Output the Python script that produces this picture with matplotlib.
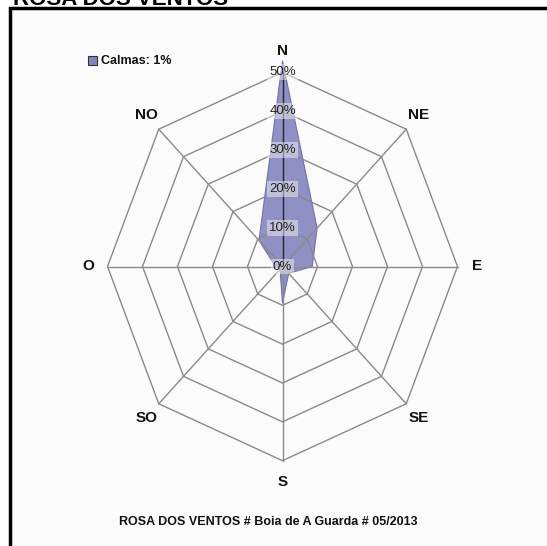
import numpy as np
import matplotlib
matplotlib.use("Agg")
import matplotlib.pyplot as plt
from matplotlib.patches import Rectangle

# wind rose data (% of time from each direction)
directions = ['N', 'NE', 'E', 'SE', 'S', 'SO', 'O', 'NO']
freq = [53, 14, 8.5, 2.5, 9.5, 1, 2, 9.5]
ring_levels = [10, 20, 30, 40, 50]
ring_labels = ['0%', '10%', '20%', '30%', '40%', '50%']
calmas = 1
caption = 'ROSA DOS VENTOS # Boia de A Guarda # 05/2013'
title = 'ROSA DOS VENTOS'

FONT = ['Liberation Sans', 'DejaVu Sans']
W, H = 547, 546

fig = plt.figure(figsize=(W / 100, H / 100), dpi=100)
fig.patch.set_facecolor('white')

# frame of the chart box (cut on right and bottom like the screenshot)
fig.patches.append(Rectangle((10 / W, -0.05), 1.1, (H - 8) / H + 0.05, transform=fig.transFigure,
                             facecolor='#fafbfa', edgecolor='black', lw=2.5, zorder=-5))
fig.text(13 / W, 1 - 5 / H, title, fontsize=16, fontweight='bold',
         family=FONT, va='baseline', ha='left')

cx, cy = 282.5, H - 266.5
rx, ry = 210, 233
ax = fig.add_axes([(cx - rx) / W, (cy - ry) / H, 2 * rx / W, 2 * ry / H])
ax.set_xlim(-60, 60)
ax.set_ylim(-60, 60)
ax.axis('off')
ax.patch.set_alpha(0)

theta = np.deg2rad(90 - 45 * np.arange(len(directions)))
ct, st = np.cos(theta), np.sin(theta)

# data polygon
f = np.array(freq)
ax.fill(np.append(f * ct, f[0] * ct[0]), np.append(f * st, f[0] * st[0]),
        facecolor='#8484bd', edgecolor='#6b6ba6', lw=0.8, alpha=0.9, zorder=2)

# grid rings and spokes
for r in ring_levels:
    ax.plot(np.append(r * ct, r * ct[0]), np.append(r * st, r * st[0]),
            color='#8a8a8a', lw=1, zorder=3)
for i in range(len(directions)):
    col = '#222233' if i == 0 else '#8a8a8a'
    ax.plot([0, 50 * ct[i]], [0, 50 * st[i]], color=col, lw=1, zorder=3)

# radial labels along N axis
for k, lab in enumerate(ring_labels):
    ax.text(0, 10 * k, lab, ha='center', va='center', fontsize=9.5, family=FONT,
            color='#222222', zorder=4,
            bbox=dict(boxstyle='square,pad=0.15', facecolor='white', edgecolor='none', alpha=0.45))

# direction labels
for i, d in enumerate(directions):
    rr = 55.5 if i % 2 == 0 else 55
    ax.text(rr * ct[i], rr * st[i], d, ha='center', va='center', fontsize=11,
            fontweight='bold', family=FONT, color='#111111')

# calm legend
fig.patches.append(Rectangle((88 / W, 1 - 65 / H), 9 / W, 9 / H, transform=fig.transFigure,
                             facecolor='#8484bd', edgecolor='#333333', lw=0.8))
fig.text(101 / W, 1 - 61 / H, 'Calmas: %d%%' % calmas, fontsize=9, fontweight='bold',
         family=FONT, va='center', ha='left', color='#111111')

fig.text(268 / W, 1 - 522 / H, caption, fontsize=9, fontweight='bold', family=FONT,
         ha='center', va='center', color='#111111')

fig.savefig('out.png', dpi=100)
